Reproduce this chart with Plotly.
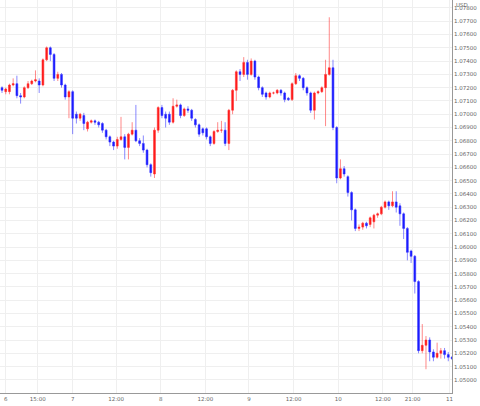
import plotly.graph_objects as go

opens = [1.0720,1.0717,1.0717,1.0722,1.0723,1.0714,1.0713,1.0720,1.0723,1.0725,1.0725,1.0722,1.0741,1.0750,1.0745,1.0727,1.0730,1.0722,1.0713,1.0717,
1.0700,1.0697,1.0699,1.0689,1.0694,1.0695,1.0694,1.0693,1.0688,1.0683,1.0679,1.0676,1.0681,1.0683,1.0675,1.0685,1.0688,1.0680,1.0678,1.0673,
1.0662,1.0655,1.0688,1.0705,1.0700,1.0700,1.0694,1.0706,1.0707,1.0699,1.0704,1.0703,1.0696,1.0692,1.0689,1.0689,1.0683,1.0678,1.0687,1.0688,
1.0688,1.0678,1.0703,1.0718,1.0732,1.0730,1.0739,1.0730,1.0740,1.0728,1.0720,1.0716,1.0713,1.0716,1.0716,1.0718,1.0716,1.0712,1.0711,1.0723,
1.0729,1.0727,1.0720,1.0716,1.0703,1.0716,1.0717,1.0720,1.0730,1.0735,1.0690,1.0652,1.0659,1.0653,1.0641,1.0628,1.0614,1.0615,1.0618,1.0617,
1.0619,1.0624,1.0625,1.0630,1.0634,1.0631,1.0634,1.0631,1.0625,1.0614,1.0597,1.0593,1.0574,1.0522,1.0526,1.0530,1.0521,1.0517,1.0520,1.0522,
1.0519,1.0517]
closes = [1.0718,1.0719,1.0722,1.0723,1.0714,1.0713,1.0720,1.0723,1.0725,1.0726,1.0722,1.0741,1.0750,1.0745,1.0727,1.0730,1.0722,1.0713,1.0717,1.0697,
1.0697,1.0700,1.0693,1.0694,1.0695,1.0694,1.0692,1.0688,1.0683,1.0679,1.0676,1.0681,1.0683,1.0675,1.0685,1.0688,1.0680,1.0678,1.0673,1.0662,
1.0656,1.0688,1.0705,1.0699,1.0697,1.0694,1.0706,1.0707,1.0699,1.0704,1.0703,1.0697,1.0692,1.0685,1.0686,1.0683,1.0678,1.0687,1.0688,1.0688,
1.0678,1.0703,1.0718,1.0732,1.0730,1.0739,1.0730,1.0740,1.0728,1.0720,1.0715,1.0713,1.0716,1.0716,1.0718,1.0716,1.0711,1.0711,1.0723,1.0729,
1.0727,1.0720,1.0716,1.0703,1.0716,1.0717,1.0720,1.0730,1.0735,1.0690,1.0652,1.0659,1.0655,1.0641,1.0628,1.0614,1.0615,1.0618,1.0616,1.0622,
1.0624,1.0625,1.0630,1.0634,1.0631,1.0634,1.0630,1.0625,1.0614,1.0596,1.0593,1.0574,1.0522,1.0526,1.0530,1.0521,1.0517,1.0520,1.0522,1.0519,
1.0517,1.0516]
highs = [1.0721,1.0720,1.0723,1.0727,1.0729,1.0716,1.0721,1.0725,1.0726,1.0733,1.0727,1.0742,1.0751,1.0751,1.0746,1.0732,1.0731,1.0723,1.0718,1.0718,
1.0702,1.0701,1.0701,1.0695,1.0696,1.0696,1.0695,1.0694,1.0689,1.0684,1.0680,1.0683,1.0698,1.0685,1.0686,1.0694,1.0707,1.0682,1.0684,1.0674,
1.0663,1.0690,1.0706,1.0707,1.0702,1.0702,1.0712,1.0711,1.0708,1.0705,1.0706,1.0704,1.0697,1.0693,1.0690,1.0690,1.0684,1.0688,1.0694,1.0695,
1.0694,1.0704,1.0719,1.0733,1.0734,1.0743,1.0741,1.0742,1.0741,1.0729,1.0721,1.0717,1.0717,1.0717,1.0719,1.0719,1.0717,1.0713,1.0724,1.0731,
1.0730,1.0728,1.0721,1.0717,1.0717,1.0718,1.0721,1.0741,1.0773,1.0741,1.0691,1.0666,1.0661,1.0654,1.0642,1.0629,1.0617,1.0619,1.0619,1.0623,
1.0625,1.0626,1.0631,1.0635,1.0635,1.0642,1.0642,1.0633,1.0626,1.0615,1.0598,1.0594,1.0575,1.0542,1.0533,1.0532,1.0523,1.0528,1.0524,1.0524,
1.0521,1.0518]
lows = [1.0716,1.0715,1.0715,1.0721,1.0712,1.0708,1.0712,1.0719,1.0722,1.0724,1.0716,1.0721,1.0740,1.0740,1.0725,1.0725,1.0720,1.0711,1.0697,1.0685,
1.0693,1.0695,1.0688,1.0687,1.0693,1.0692,1.0690,1.0686,1.0681,1.0676,1.0673,1.0674,1.0680,1.0666,1.0666,1.0684,1.0679,1.0676,1.0671,1.0660,
1.0653,1.0652,1.0686,1.0697,1.0690,1.0692,1.0693,1.0705,1.0697,1.0698,1.0701,1.0695,1.0690,1.0683,1.0684,1.0681,1.0676,1.0677,1.0686,1.0686,
1.0676,1.0673,1.0700,1.0710,1.0725,1.0728,1.0726,1.0729,1.0726,1.0718,1.0713,1.0711,1.0712,1.0715,1.0715,1.0714,1.0709,1.0710,1.0710,1.0722,
1.0725,1.0718,1.0714,1.0701,1.0696,1.0715,1.0716,1.0691,1.0729,1.0688,1.0648,1.0651,1.0653,1.0638,1.0620,1.0612,1.0612,1.0613,1.0614,1.0615,
1.0614,1.0622,1.0624,1.0629,1.0628,1.0630,1.0626,1.0616,1.0606,1.0590,1.0588,1.0565,1.0520,1.0520,1.0508,1.0514,1.0514,1.0516,1.0516,1.0516,
1.0514,1.0515]
x_idx = list(range(len(opens)))

tick_pos = [1, 9.6, 19, 30.7, 42.7, 54.7, 66.4, 78.4, 90.4, 102.4, 110.4, 120.3]
tick_text = ["6", "15:00", "7", "12:00", "8", "12:00", "9", "12:00", "10", "12:00", "21:00", "11"]

fig = go.Figure(go.Candlestick(
    x=x_idx, open=opens, high=highs, low=lows, close=closes,
    increasing=dict(line=dict(color="rgba(255,40,40,0.55)", width=1), fillcolor="#ff1a1a"),
    decreasing=dict(line=dict(color="rgba(40,40,255,0.55)", width=1), fillcolor="#1a1aff"),
    whiskerwidth=0,
))
fig.update_layout(
    width=480, height=406, margin=dict(l=0, r=28, t=0, b=13),
    paper_bgcolor="white", plot_bgcolor="white", showlegend=False,
    font=dict(family="DejaVu Sans", size=5.5, color="#666"),
    xaxis=dict(range=[-0.54, 121], rangeslider=dict(visible=False), tickmode="array",
               tickvals=tick_pos, ticktext=tick_text, showgrid=True, gridcolor="#efefef",
               showline=True, linecolor="#999", linewidth=1, ticks="", zeroline=False),
    yaxis=dict(side="right", range=[1.04901, 1.07860], dtick=0.001, tickformat=".5f",
               showgrid=True, gridcolor="#efefef", showline=True, linecolor="#999",
               linewidth=1, ticks="", zeroline=False),
    annotations=[dict(text="USD", xref="paper", yref="paper", x=1.005, y=1.0,
                      xanchor="left", yanchor="top", showarrow=False,
                      font=dict(size=5.5, color="#666"))],
)
fig.write_html("out.html", config={"displayModeBar": False},
               post_script="document.body.style.margin='0';document.body.style.overflow='hidden';")
